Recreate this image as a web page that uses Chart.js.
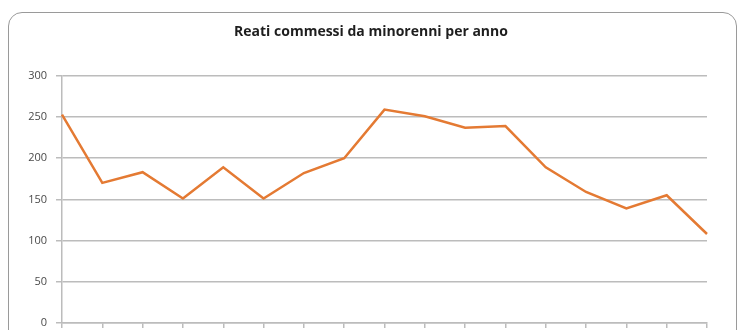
<!DOCTYPE html>
<html>
<head>
<meta charset="utf-8">
<script src="https://cdn.jsdelivr.net/npm/chart.js@4"></script>
<style>
  html, body { margin: 0; padding: 0; background: #fff; overflow: hidden; }
  #wrap { position: relative; width: 742px; height: 330px; }
  #frame {
    position: absolute; left: 8px; top: 12px; width: 729px; height: 360px;
    border: 1.5px solid #9a9a9a; border-radius: 14px; box-sizing: border-box;
  }
  canvas { position: absolute; left: 0; top: 0; }
</style>
</head>
<body>
<div id="wrap">
  <div id="frame"></div>
  <canvas id="chart" width="742" height="330"></canvas>
</div>
<script>
  // Dati (asse x senza etichette visibili)
  const categorie = ['', '', '', '', '', '', '', '', '', '', '', '', '', '', '', '', ''];
  const reati = [253, 170, 183, 151, 189, 151, 182, 200, 259, 251, 237, 239, 189, 159, 139, 155, 108];
  const titolo = 'Reati commessi da minorenni per anno';
  const yMax = 300;
  const yStep = 50;

  const grigio = '#bcbcbc';
  const arancio = '#e47a33';

  new Chart(document.getElementById('chart'), {
    type: 'line',
    data: {
      labels: categorie,
      datasets: [{
        label: 'Reati',
        data: reati,
        borderColor: arancio,
        borderWidth: 2.5,
        pointRadius: 0,
        tension: 0,
        fill: false
      }]
    },
    options: {
      responsive: false,
      animation: false,
      layout: { padding: 0 },
      plugins: {
        legend: { display: false },
        tooltip: { enabled: false },
        title: {
          display: true,
          text: titolo,
          color: '#1e1e1e',
          font: { family: 'Open Sans', size: 14, weight: 'bold', lineHeight: 1.2 },
          padding: { top: 24, bottom: 35 }
        }
      },
      scales: {
        x: {
          offset: false,
          grid: { drawOnChartArea: false, drawTicks: true, tickLength: 5, color: grigio, lineWidth: 1.5 },
          border: { color: grigio, width: 1.5 },
          ticks: { display: false },
          afterFit: s => { s.height = 7; }
        },
        y: {
          min: 0,
          max: yMax,
          ticks: {
            stepSize: yStep,
            color: '#4a4a4a',
            padding: 9,
            font: { family: 'Open Sans', size: 11 }
          },
          grid: { color: grigio, lineWidth: 1.5, tickLength: 6 },
          border: { color: grigio, width: 1.5 },
          afterFit: s => { s.width = 62; s.paddingTop = 0; s.paddingBottom = 0; }
        },
        // spazio vuoto a destra del grafico
        destra: {
          position: 'right',
          display: true,
          ticks: { display: false },
          grid: { display: false },
          border: { display: false },
          afterFit: s => { s.width = 35; }
        }
      }
    }
  });
</script>
</body>
</html>
